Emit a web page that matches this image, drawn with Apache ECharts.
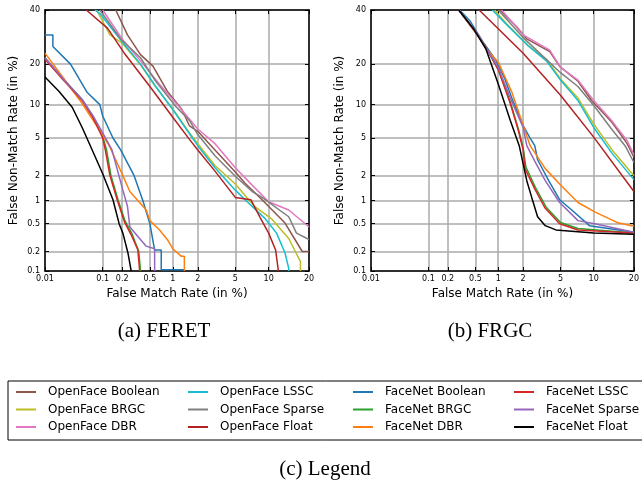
<!DOCTYPE html>
<html>
<head>
<meta charset="utf-8">
<script src="https://cdn.jsdelivr.net/npm/echarts@6/dist/echarts.min.js"></script>
<style>
  html, body { margin: 0; padding: 0; background: #fff; }
  #chart { width: 642px; height: 489px; }
</style>
</head>
<body>
<div id="chart"></div>
<script>
// tick labels (in %)
const xTicks = [0.01, 0.1, 0.2, 0.5, 1, 2, 5, 10, 20]
const yTicks = [0.1, 0.2, 0.5, 1, 2, 5, 10, 20, 40]

const seriesNames = [
  'OpenFace Boolean', 'OpenFace BRGC', 'OpenFace DBR',
  'OpenFace LSSC', 'OpenFace Sparse', 'OpenFace Float',
  'FaceNet Boolean', 'FaceNet BRGC', 'FaceNet DBR',
  'FaceNet LSSC', 'FaceNet Sparse', 'FaceNet Float'
]
const colors = [
  '#8c564b', '#bcbd22', '#e377c2',
  '#17becf', '#7f7f7f', '#b22222',
  '#1f77b4', '#2ca02c', '#ff7f0e',
  '#d62728', '#9467bd', '#000000'
]

// FERET: [FMR %, FNMR %]
const feretOfBoolean = [[0.16,40],[0.24,30],[0.37,23],[0.55,19.4],[0.85,12.8],[1.3,9.1],[1.6,6.5],[2,5.8],[3.1,3.8],[5,2.2],[6.2,1.63],[8.8,1.03],[13.5,0.51],[16,0.3],[18,0.2],[20,0.2]]
const feretOfBRGC = [[0.08,40],[0.13,30],[0.2,27],[0.37,19.8],[0.6,13.8],[1,9.2],[1.6,5.6],[2,4.4],[3.1,2.6],[5,1.6],[7.6,0.84],[10.6,0.58],[14.4,0.31],[17.5,0.14],[17.5,0.1]]
const feretOfDBR = [[0.1,40],[0.2,28.5],[0.37,21],[0.67,14.5],[1.2,9.6],[2,6.1],[3.1,4.4],[5,2.45],[7.2,1.55],[10,0.97],[14.4,0.76],[20,0.45]]
const feretOfLSSC = [[0.075,40],[0.09,38.5],[0.2,27.5],[0.37,20],[0.6,13.9],[1,9.1],[1.6,5.5],[2,4.2],[3.1,2.45],[5,1.35],[6.2,1.03],[9.4,0.58],[11.6,0.37],[13.5,0.19],[14.4,0.11],[14.4,0.1]]
const feretOfSparse = [[0.09,40],[0.19,28.5],[0.37,22],[0.6,15.2],[1.1,9.6],[1.6,7.3],[2,5.4],[3.1,3.3],[5,1.97],[7.2,1.3],[8.8,1.1],[14.4,0.62],[16.4,0.37],[20,0.3]]
const feretOfFloat = [[0.054,40],[0.12,32.5],[0.22,23.2],[0.5,13.9],[1,7.8],[1.6,4.85],[2,3.8],[3.1,2.25],[5,1.1],[7,1.03],[8.5,0.6],[10,0.37],[11.4,0.21],[12,0.1]]
const feretFnBoolean = [[0.01,30],[0.014,30],[0.014,25.8],[0.029,20],[0.056,12.5],[0.09,10],[0.1,8],[0.145,5],[0.19,3.8],[0.3,2],[0.4,1],[0.5,0.5],[0.58,0.21],[0.71,0.21],[0.71,0.105],[1.39,0.105]]
const feretFnBRGC = [[0.01,22],[0.021,16],[0.046,11],[0.07,7.8],[0.1,5.2],[0.115,3.8],[0.135,2.0],[0.175,1.0],[0.22,0.55],[0.28,0.36],[0.35,0.2],[0.37,0.2],[0.37,0.1]]
const feretFnDBR = [[0.01,23.5],[0.024,15.2],[0.046,10.2],[0.09,5.9],[0.129,4.1],[0.205,2],[0.26,1.3],[0.445,0.76],[0.5,0.55],[0.675,0.41],[0.87,0.29],[1,0.22],[1.27,0.17],[1.39,0.17],[1.39,0.1]]
const feretFnLSSC = [[0.01,21.5],[0.021,15.7],[0.046,10.8],[0.069,7.8],[0.1,5],[0.11,3.8],[0.13,2.0],[0.17,1.0],[0.218,0.52],[0.272,0.35],[0.34,0.21],[0.36,0.21],[0.36,0.1]]
const feretFnSparse = [[0.01,22],[0.021,16],[0.046,11],[0.07,8],[0.1,5.6],[0.14,3.8],[0.205,1.35],[0.24,0.85],[0.26,0.45],[0.445,0.24],[0.58,0.22],[0.58,0.1]]
const feretFnFloat = [[0.01,16.3],[0.018,12.8],[0.031,9.5],[0.046,6.3],[0.064,4.1],[0.1,2.1],[0.145,1.03],[0.18,0.5],[0.205,0.37],[0.244,0.19],[0.272,0.1]]

// FRGC
const frgcOfBoolean = [[1.05,40],[1.7,33],[2.2,28.5],[3.9,24],[4.9,19.3],[7.3,15.2],[9.6,10.8],[14,7],[18,4.4],[20,3.2]]
const frgcOfBRGC = [[0.9,40],[1.3,34],[2.3,26],[3.6,21.5],[5,15.8],[7.3,11.3],[10,6.8],[14,3.8],[20,2.0]]
const frgcOfDBR = [[1.1,40],[2,30],[3.9,24.5],[5,19],[7.3,15.5],[10,10.8],[14,7.2],[18,4.7],[20,3.4]]
const frgcOfLSSC = [[0.84,40],[1.3,33.7],[2.25,26.2],[3.6,21],[5,15.5],[7.3,10.8],[10,6.3],[14,3.5],[20,1.8]]
const frgcOfSparse = [[1.0,40],[2,29],[5,17.5],[7.3,13.9],[10.2,9.6],[14,6],[17.4,4.2],[20,2.8]]
const frgcOfFloat = [[0.56,40],[1,32.4],[2,23.5],[5,11.9],[10,5.1],[20,1.3]]
const frgcFnBoolean = [[0.3,40],[0.42,35.5],[0.63,27.5],[0.93,21.2],[1.2,16],[1.47,11.3],[2.05,6.3],[2.4,5],[2.7,4.2],[2.9,3],[3.8,1.75],[4.9,1.03],[6.4,0.76],[9.2,0.47],[20,0.38]]
const frgcFnBRGC = [[0.29,40],[0.5,31],[0.69,25.6],[1,18.4],[1.41,10.5],[1.75,6.2],[2,4],[2.15,2.5],[2.75,1.45],[3.6,0.82],[5,0.52],[7.3,0.43],[20,0.37]]
const frgcFnDBR = [[0.29,40],[0.5,31.5],[0.7,25],[1,20.6],[1.47,12.6],[2,6.6],[2.4,4.2],[3.5,2.4],[4.9,1.6],[7.3,0.95],[10.2,0.72],[15.2,0.52],[20,0.46]]
const frgcFnLSSC = [[0.29,40],[0.5,31],[0.69,25.6],[1,18.4],[1.41,10.2],[1.75,6],[2,3.8],[2.1,2.4],[2.7,1.4],[3.5,0.8],[4.9,0.5],[7.3,0.41],[20,0.37]]
const frgcFnSparse = [[0.29,40],[0.5,31.5],[0.7,25],[1,19],[1.41,11.3],[2,6.3],[2.2,4.2],[2.7,2.9],[3.5,1.75],[4.9,0.95],[7.3,0.55],[10.2,0.5],[20,0.38]]
const frgcFnFloat = [[0.29,40],[0.47,32.4],[0.69,25],[1,14.5],[1.41,7.3],[1.8,4.2],[2.2,1.75],[2.5,1.1],[2.9,0.62],[3.5,0.47],[4.5,0.41],[10,0.37],[20,0.355]]

const feretData = [feretOfBoolean, feretOfBRGC, feretOfDBR, feretOfLSSC, feretOfSparse, feretOfFloat,
  feretFnBoolean, feretFnBRGC, feretFnDBR, feretFnLSSC, feretFnSparse, feretFnFloat]
const frgcData = [frgcOfBoolean, frgcOfBRGC, frgcOfDBR, frgcOfLSSC, frgcOfSparse, frgcOfFloat,
  frgcFnBoolean, frgcFnBRGC, frgcFnDBR, frgcFnLSSC, frgcFnSparse, frgcFnFloat]

// normal deviate (DET) scale
function probit (p) {
  const a = [-3.969683028665376e+01, 2.209460984245205e+02, -2.759285104469687e+02, 1.383577518672690e+02, -3.066479806614716e+01, 2.506628277459239e+00]
  const b = [-5.447609879822406e+01, 1.615858368580409e+02, -1.556989798598866e+02, 6.680131188771972e+01, -1.328068155288572e+01]
  const c = [-7.784894002430293e-03, -3.223964580411365e-01, -2.400758277161838e+00, -2.549732539343734e+00, 4.374664141464968e+00, 2.938163982698783e+00]
  const d = [7.784695709041462e-03, 3.224671290700398e-01, 2.445134137142996e+00, 3.754408661907416e+00]
  const plow = 0.02425
  if (p < plow) {
    const q = Math.sqrt(-2 * Math.log(p))
    return (((((c[0] * q + c[1]) * q + c[2]) * q + c[3]) * q + c[4]) * q + c[5]) / ((((d[0] * q + d[1]) * q + d[2]) * q + d[3]) * q + 1)
  }
  if (p <= 1 - plow) {
    const q = p - 0.5, r = q * q
    return (((((a[0] * r + a[1]) * r + a[2]) * r + a[3]) * r + a[4]) * r + a[5]) * q / (((((b[0] * r + b[1]) * r + b[2]) * r + b[3]) * r + b[4]) * r + 1)
  }
  const q = Math.sqrt(-2 * Math.log(1 - p))
  return -(((((c[0] * q + c[1]) * q + c[2]) * q + c[3]) * q + c[4]) * q + c[5]) / ((((d[0] * q + d[1]) * q + d[2]) * q + d[3]) * q + 1)
}
const z = v => probit(v / 100)

const nearestLabel = (ticks) => (val) => {
  let best = ticks[0]
  ticks.forEach(t => { if (Math.abs(z(t) - val) < Math.abs(z(best) - val)) best = t })
  return String(best)
}

const font = 'DejaVu Sans'
const grids = [
  { left: 45, top: 10, width: 264, height: 261 },
  { left: 371, top: 10, width: 265, height: 261 }
]

const xAxes = []
const yAxes = []
grids.forEach((g, gi) => {
  const common = {
    type: 'value',
    gridIndex: gi,
    axisLine: { show: true, onZero: false, lineStyle: { color: '#000', width: 1.5 } },
    axisTick: { show: true, inside: true, length: 4, lineStyle: { color: '#000', width: 1 } }
  }
  const xc = { ...common, min: z(xTicks[0]), max: z(xTicks[xTicks.length - 1]) }
  const yc = { ...common, min: z(yTicks[0]), max: z(yTicks[yTicks.length - 1]) }
  xc.axisTick = { ...common.axisTick, customValues: xTicks.map(z) }
  yc.axisTick = { ...common.axisTick, customValues: yTicks.map(z) }
  xAxes.push({
    ...xc, position: 'bottom',
    name: 'False Match Rate (in %)', nameLocation: 'middle', nameGap: 16,
    nameTextStyle: { fontFamily: font, fontSize: 12, color: '#000' },
    axisLabel: { customValues: xTicks.map(z), formatter: nearestLabel(xTicks), fontFamily: font, fontSize: 8, color: '#000', margin: 4 },
    splitLine: { show: true, lineStyle: { color: '#aaaaaa', width: 1.5 } }
  })
  xAxes.push({ ...xc, position: 'top', axisLabel: { show: false }, splitLine: { show: false } })
  yAxes.push({
    ...yc, position: 'left',
    name: 'False Non-Match Rate (in %)', nameLocation: 'middle', nameGap: 25,
    nameTextStyle: { fontFamily: font, fontSize: 12, color: '#000' },
    axisLabel: { customValues: yTicks.map(z), formatter: nearestLabel(yTicks), fontFamily: font, fontSize: 8, color: '#000', margin: 5 },
    splitLine: { show: true, lineStyle: { color: '#aaaaaa', width: 1.5 } }
  })
  yAxes.push({ ...yc, position: 'right', axisLabel: { show: false }, splitLine: { show: false } })
})

const series = []
;[feretData, frgcData].forEach((set, gi) => {
  set.forEach((pts, i) => {
    series.push({
      name: seriesNames[i],
      type: 'line',
      xAxisIndex: gi * 2,
      yAxisIndex: gi * 2,
      showSymbol: false,
      clip: true,
      color: colors[i],
      lineStyle: { width: 1.5, color: colors[i] },
      data: pts.map(p => [z(p[0]), z(p[1])])
    })
  })
})

const legendLefts = [11, 183, 348, 509]
const legends = legendLefts.map((left, ci) => ({
  orient: 'vertical',
  left: left,
  top: 380,
  icon: 'rect',
  itemWidth: 20,
  itemHeight: 2,
  itemGap: 3.5,
  selectedMode: false,
  data: seriesNames.slice(ci * 3, ci * 3 + 3),
  textStyle: { fontFamily: font, fontSize: 12, color: '#000', lineHeight: 14, padding: [0, 0, 0, 7] }
}))

const chart = echarts.init(document.getElementById('chart'))
chart.setOption({
  animation: false,
  backgroundColor: '#fff',
  grid: grids,
  xAxis: xAxes,
  yAxis: yAxes,
  legend: legends,
  series: series,
  graphic: [
    { type: 'rect', shape: { x: 8, y: 381, width: 700, height: 59 }, style: { fill: 'none', stroke: '#000', lineWidth: 1 } },
    { type: 'text', x: 164, y: 331, style: { text: '(a) FERET', align: 'center', verticalAlign: 'middle', font: '21px "Liberation Serif"', fill: '#000' } },
    { type: 'text', x: 490, y: 331, style: { text: '(b) FRGC', align: 'center', verticalAlign: 'middle', font: '21px "Liberation Serif"', fill: '#000' } },
    { type: 'text', x: 325, y: 469, style: { text: '(c) Legend', align: 'center', verticalAlign: 'middle', font: '21px "Liberation Serif"', fill: '#000' } }
  ]
})
</script>
</body>
</html>
